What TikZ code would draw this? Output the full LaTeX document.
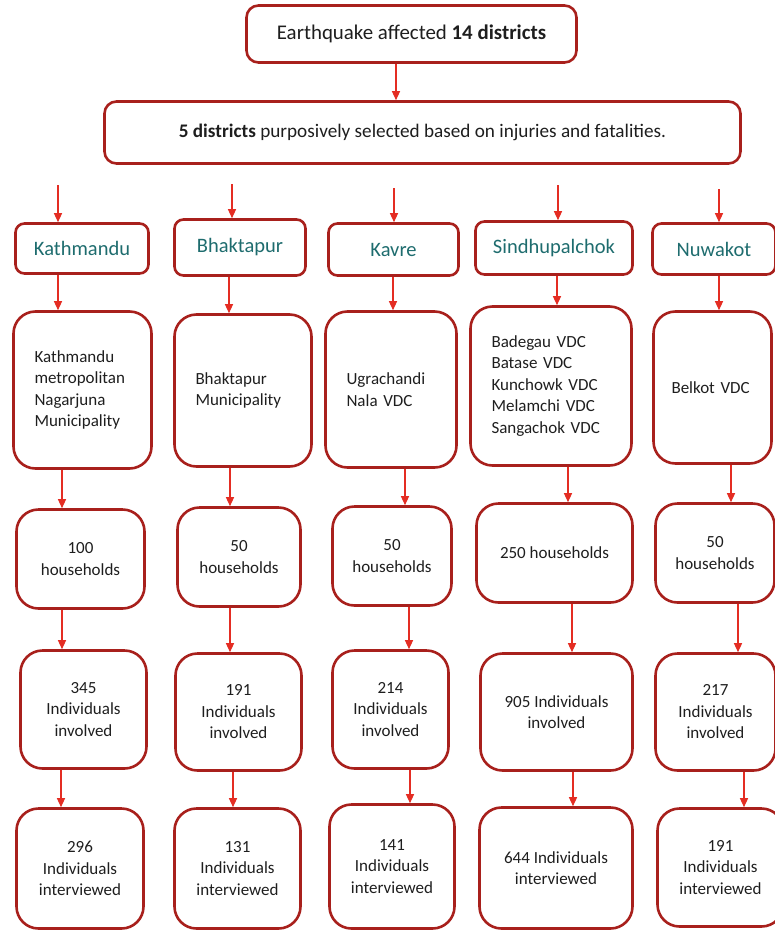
\documentclass[tikz,border=0pt]{standalone}
\usepackage{fontspec}
\setmainfont{Carlito}
\usepackage{xcolor}
\usepackage{tikz}
\usetikzlibrary{arrows.meta,positioning}

\definecolor{boxred}{RGB}{168,32,28}
\definecolor{arrowred}{RGB}{228,45,35}
\definecolor{distteal}{RGB}{30,108,110}
\definecolor{txtgrey}{RGB}{30,30,30}

\begin{document}
\begin{tikzpicture}[
    x=1pt, y=-1pt,
    stage/.style={rectangle, draw=boxred, line width=2.6pt, rounded corners=12pt, align=center, text=txtgrey, font=\fontsize{20.9}{25}\selectfont},
    district/.style={rectangle, draw=boxred, line width=2.6pt, rounded corners=9pt, align=center, text=distteal, font=\fontsize{20.5}{24}\selectfont},
    area/.style={rectangle, draw=boxred, line width=2.6pt, rounded corners=22pt, align=left, inner xsep=21pt, text=txtgrey, font=\fontsize{17}{21.5}\selectfont},
    count/.style={rectangle, draw=boxred, line width=2.6pt, rounded corners=22pt, align=center, text=txtgrey, font=\fontsize{17}{21.5}\selectfont},
    arrow/.style={-{Triangle[length=9pt,width=8pt]}, draw=arrowred, line width=1.3pt}
]
\clip (0,0) rectangle (775,932);

% top of the sampling
\node[stage, minimum width=330pt, minimum height=57pt] (quake) at (411.5,34) {Earthquake affected \textbf{14 districts}};
\node[stage, font=\fontsize{19.2}{23}\selectfont, minimum width=636pt, minimum height=62pt] (select) at (422.5,132.5) {\textbf{5 districts} purposively selected based on injuries and fatalities.};
\draw[arrow] (quake.south -| 396,0) -- (select.north -| 396,0);

% districts
\node[district, minimum width=133pt, minimum height=50pt] (kat) at (82,248.5) {Kathmandu};
\node[district, minimum width=131pt, minimum height=56pt] (bha) at (240,247.5) {Bhaktapur};
\node[district, minimum width=130pt, minimum height=52pt] (kav) at (393.5,249.5) {Kavre};
\node[district, minimum width=157pt, minimum height=53pt] (sin) at (554,248) {Sindhupalchok};
\node[district, minimum width=123pt, minimum height=51pt] (nuw) at (714,249) {Nuwakot};

\coordinate (katIn) at (58,185);
\coordinate (bhaIn) at (232,184);
\coordinate (kavIn) at (394,188);
\coordinate (sinIn) at (558,185);
\coordinate (nuwIn) at (719,189);
\draw[arrow] (katIn) -- (katIn |- kat.north);
\draw[arrow] (bhaIn) -- (bhaIn |- bha.north);
\draw[arrow] (kavIn) -- (kavIn |- kav.north);
\draw[arrow] (sinIn) -- (sinIn |- sin.north);
\draw[arrow] (nuwIn) -- (nuwIn |- nuw.north);

% municipalities and VDCs
\node[area, text width=96pt, minimum height=157pt] (katA) at (82.5,390) {Kathmandu\\metropolitan\\Nagarjuna\\Municipality};
\node[area, text width=95pt, minimum height=152pt] (bhaA) at (243,390.5) {Bhaktapur\\Municipality};
\node[area, text width=89pt, minimum height=156pt] (kavA) at (391,389.5) {Ugrachandi\\Nala VDC};
\node[area, text width=119pt, minimum height=159pt] (sinA) at (551,386) {Badegau VDC\\Batase VDC\\Kunchowk VDC\\Melamchi VDC\\Sangachok VDC};
\node[area, inner xsep=18pt, text width=82pt, minimum height=152pt] (nuwA) at (712.5,387.5) {Belkot VDC};

\draw[arrow] (kat.south -| 58,0) -- (katA.north -| 58,0);
\draw[arrow] (bha.south -| 229,0) -- (bhaA.north -| 229,0);
\draw[arrow] (kav.south -| 393,0) -- (kavA.north -| 393,0);
\draw[arrow] (sin.south -| 557,0) -- (sinA.north -| 557,0);
\draw[arrow] (nuw.south -| 719,0) -- (nuwA.north -| 719,0);

% households
\node[count, minimum width=128pt, minimum height=99pt] (katH) at (80.5,559) {100\\households};
\node[count, minimum width=123pt, minimum height=99pt] (bhaH) at (239,557) {50\\households};
\node[count, minimum width=119pt, minimum height=99pt] (kavH) at (392,556) {50\\households};
\node[count, minimum width=156pt, minimum height=99pt] (sinH) at (554.5,553) {250 households};
\node[count, minimum width=119pt, minimum height=99pt] (nuwH) at (715,553) {50\\households};

\draw[arrow] (katA.south -| 62,0) -- (katH.north -| 62,0);
\draw[arrow] (bhaA.south -| 230,0) -- (bhaH.north -| 230,0);
\draw[arrow] (kavA.south -| 405,0) -- (kavH.north -| 405,0);
\draw[arrow] (sinA.south -| 568,0) -- (sinH.north -| 568,0);
\draw[arrow] (nuwA.south -| 731,0) -- (nuwH.north -| 731,0);

% individuals involved
\node[count, minimum width=126pt, minimum height=118pt] (katI) at (83.5,709.5) {345\\Individuals\\involved};
\node[count, minimum width=126pt, minimum height=117pt] (bhaI) at (238.5,712) {191\\Individuals\\involved};
\node[count, minimum width=116pt, minimum height=118pt] (kavI) at (390.5,709.5) {214\\Individuals\\involved};
\node[count, minimum width=152pt, minimum height=117pt] (sinI) at (556.5,712) {905 Individuals\\involved};
\node[count, minimum width=120pt, minimum height=117pt] (nuwI) at (715.5,712) {217\\Individuals\\involved};

\draw[arrow] (katH.south -| 62,0) -- (katI.north -| 62,0);
\draw[arrow] (bhaH.south -| 230,0) -- (bhaI.north -| 230,0);
\draw[arrow] (kavH.south -| 409,0) -- (kavI.north -| 409,0);
\draw[arrow] (sinH.south -| 572,0) -- (sinI.north -| 572,0);
\draw[arrow] (nuwH.south -| 738,0) -- (nuwI.north -| 738,0);

% individuals interviewed
\node[count, minimum width=127pt, minimum height=120pt] (katV) at (80,868.5) {296\\Individuals\\interviewed};
\node[count, minimum width=126pt, minimum height=120pt] (bhaV) at (237.5,868.5) {131\\Individuals\\interviewed};
\node[count, minimum width=125pt, minimum height=124pt] (kavV) at (392,866.5) {141\\Individuals\\interviewed};
\node[count, minimum width=153pt, minimum height=121pt] (sinV) at (556,868) {644 Individuals\\interviewed};
\node[count, minimum width=126pt, minimum height=118pt] (nuwV) at (720.5,867.5) {191\\Individuals\\interviewed};

\draw[arrow] (katI.south -| 61,0) -- (katV.north -| 61,0);
\draw[arrow] (bhaI.south -| 233,0) -- (bhaV.north -| 233,0);
\draw[arrow] (kavI.south -| 410,0) -- (kavV.north -| 410,0);
\draw[arrow] (sinI.south -| 573,0) -- (sinV.north -| 573,0);
\draw[arrow] (nuwI.south -| 744,0) -- (nuwV.north -| 744,0);

\end{tikzpicture}
\end{document}
